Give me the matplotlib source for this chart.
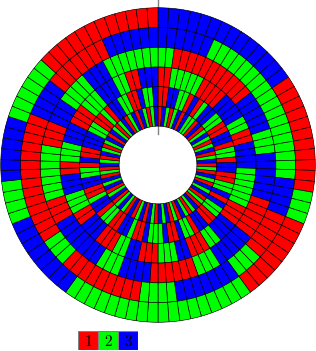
import numpy as np
import matplotlib
matplotlib.use("Agg")
import matplotlib.pyplot as plt

plt.rcParams['mathtext.fontset'] = 'cm'

# kolory: 1 = czerwony, 2 = zielony, 3 = niebieski
kolory = {1: '#ff0000', 2: '#00ff00', 3: '#0000ff'}
etykiety = ['1', '2', '3']

# pierscienie od srodka na zewnatrz, 90 pol kazdy, od gory zgodnie z zegarem
pierscien1 = ("1321231322" "1312321231" "2312132132" "3121321231" "2132312313"
              "2131232132" "1323121321" "3212313212" "3123132123")
pierscien2 = ("1133221312" "3322113312" "2133112231" "3221133122" "3113222311"
              "2331122133" "2113322131" "1333221121" "3322113223")
pierscien3 = ("1122222111" "1333322113" "3332222221" "1133322111" "3322211133"
              "2211133311" "2223331122" "2333111222" "3332211333")
pierscien4 = ("2211111111" "1113333322" "2333333111" "1133333222" "1111113333"
              "2223333333" "1112222222" "1113332222" "3332222222")
pierscien5 = ("3333332222" "2222222222" "2222333311" "1112223333" "3332222111"
              "1111112221" "1111111111" "1113333111" "1111333333")
pierscien6 = ("3333333333" "3333111111" "1111122211" "1111112222" "2222222222"
              "2222333333" "3322223333" "3322222211" "1111111111")

pierscienie = [pierscien1, pierscien2, pierscien3, pierscien4, pierscien5, pierscien6]

R_WEW = 39.0
SZER = 19.8

fig = plt.figure(figsize=(3.16, 3.51), dpi=100)
ax = fig.add_axes([0, 28 / 351, 1, 316 / 351], projection='polar')
ax.set_theta_zero_location('N')
ax.set_theta_direction(-1)

# pionowa kreska na gorze (pod polami)
ax.plot([0, 0], [31, 166], color='gray', lw=1.0, zorder=0, clip_on=False)

for i, p in enumerate(pierscienie):
    wart = [int(c) for c in p]
    n = len(wart)
    szer_kat = 2 * np.pi / n
    theta = (np.arange(n) + 0.5) * szer_kat
    ax.bar(theta, SZER, width=szer_kat, bottom=R_WEW + i * SZER,
           color=[kolory[w] for w in wart], edgecolor='black',
           linewidth=0.45, align='center', zorder=2)

ax.set_ylim(0, 158.5)
ax.set_axis_off()

# legenda
axl = fig.add_axes([78 / 316, 1 / 351, 60 / 316, 19 / 351])
axl.bar([0, 1, 2], [1, 1, 1], width=1, color=[kolory[1], kolory[2], kolory[3]],
        edgecolor='gray', linewidth=0.8)
for k, t in enumerate(etykiety):
    axl.text(k, 0.45, '$' + t + '$', ha='center', va='center', fontsize=11)
axl.set_xlim(-0.5, 2.5)
axl.set_ylim(0, 1)
axl.set_axis_off()

fig.savefig('out.png', dpi=100)
